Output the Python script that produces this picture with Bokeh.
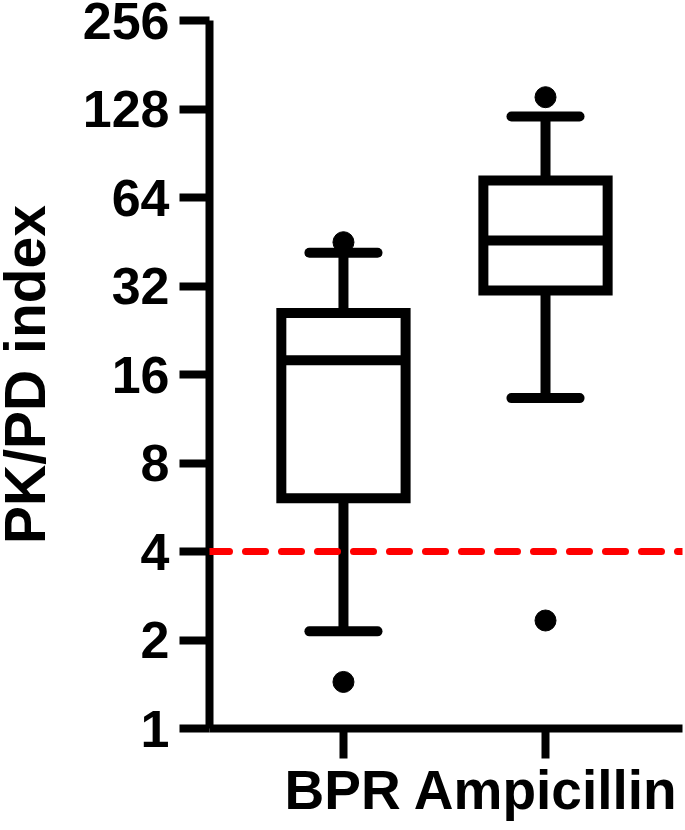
from bokeh.plotting import figure
from bokeh.models import Range1d, FixedTicker, Span, Title, ColumnDataSource
from bokeh.embed import file_html
from bokeh.resources import INLINE

# ---- data ----
categories = ["BPR", "Ampicillin"]
q1 = [6.07, 30.9]
median = [17.9, 45.7]
q3 = [25.9, 73.1]
whisker_low = [2.14, 13.3]
whisker_high = [41.5, 120.7]
outlier_group = ["BPR", "BPR", "Ampicillin", "Ampicillin"]
outlier_value = [45.1, 1.44, 140.4, 2.33]
threshold = 4
y_ticks = [1, 2, 4, 8, 16, 32, 64, 128, 256]
y_label = "PK/PD index"
x_label = "BPR Ampicillin"

FONT = "Liberation Sans"
SHIFT = 40  # canvas starts this many px left of the page edge
pos = {c: i + 1 for i, c in enumerate(categories)}
xs = [pos[c] for c in categories]
box_w = 0.615
cap_w = 0.337

p = figure(width=685 + SHIFT, height=830, y_axis_type="log",
           x_range=Range1d(0.337, 2.678), y_range=Range1d(y_ticks[0], y_ticks[-1]),
           output_backend="svg", toolbar_location=None,
           min_border_left=209 + SHIFT, min_border_right=3, min_border_top=20, min_border_bottom=102)
p.styles = {"margin-left": f"-{SHIFT}px"}
p.outline_line_color = None
p.xgrid.visible = False
p.ygrid.visible = False
p.background_fill_color = "white"
p.border_fill_color = "white"

# axes
p.yaxis.ticker = FixedTicker(ticks=y_ticks, minor_ticks=[])
p.yaxis.major_label_overrides = {t: str(t) for t in y_ticks}
p.yaxis.axis_line_width = 8
p.yaxis.major_tick_line_width = 8
p.yaxis.major_tick_out = 30
p.yaxis.major_tick_in = 0
p.yaxis.minor_tick_line_color = None
p.yaxis.major_label_standoff = 10
p.yaxis.major_label_text_font = FONT
p.yaxis.major_label_text_font_style = "bold"
p.yaxis.major_label_text_font_size = "52px"
p.yaxis.major_label_text_color = "black"

p.xaxis.ticker = FixedTicker(ticks=xs, minor_ticks=[])
p.xaxis.major_label_overrides = {x: "" for x in xs}
p.xaxis.axis_line_width = 8
p.xaxis.major_tick_line_width = 8
p.xaxis.major_tick_out = 30
p.xaxis.major_tick_in = 0
p.xaxis.minor_tick_line_color = None
p.xaxis.major_label_standoff = 10
p.xaxis.major_label_text_font_size = "1px"

# whiskers (vertical)
src = ColumnDataSource(dict(x=xs, q1=q1, med=median, q3=q3, lo=whisker_low, hi=whisker_high,
                            xl=[x - box_w / 2 for x in xs], xr=[x + box_w / 2 for x in xs],
                            cl=[x - cap_w / 2 for x in xs], cr=[x + cap_w / 2 for x in xs]))
p.segment(x0="x", y0="q3", x1="x", y1="hi", source=src, line_color="black", line_width=10)
p.segment(x0="x", y0="q1", x1="x", y1="lo", source=src, line_color="black", line_width=10)
# caps
p.segment(x0="cl", y0="hi", x1="cr", y1="hi", source=src, line_color="black", line_width=10, line_cap="round")
p.segment(x0="cl", y0="lo", x1="cr", y1="lo", source=src, line_color="black", line_width=10, line_cap="round")
# boxes
p.quad(left="xl", right="xr", bottom="q1", top="q3", source=src, fill_color="white",
       line_color="black", line_width=10, line_join="miter")
# medians
p.segment(x0="xl", y0="med", x1="xr", y1="med", source=src, line_color="black", line_width=10)

# outliers
p.scatter(x=[pos[g] for g in outlier_group], y=outlier_value, size=21,
          fill_color="black", line_color="black")

# threshold line
p.add_layout(Span(location=threshold, dimension="width", line_color="#ff0000",
                  line_width=7, line_dash="20 16", line_cap="round"))

# axis labels as titles in side panels
p.add_layout(Title(text=y_label, align="center", vertical_align="top", standoff=42,
                   text_font=FONT, text_font_style="bold", text_font_size="57px",
                   text_color="black"), "left")
p.add_layout(Title(text=x_label, align="left", vertical_align="top", offset=75, standoff=0,
                   text_font=FONT, text_font_style="bold", text_font_size="55px",
                   text_line_height=0.8, text_color="black"), "below")

open("out.html", "w").write(file_html(p, INLINE))
